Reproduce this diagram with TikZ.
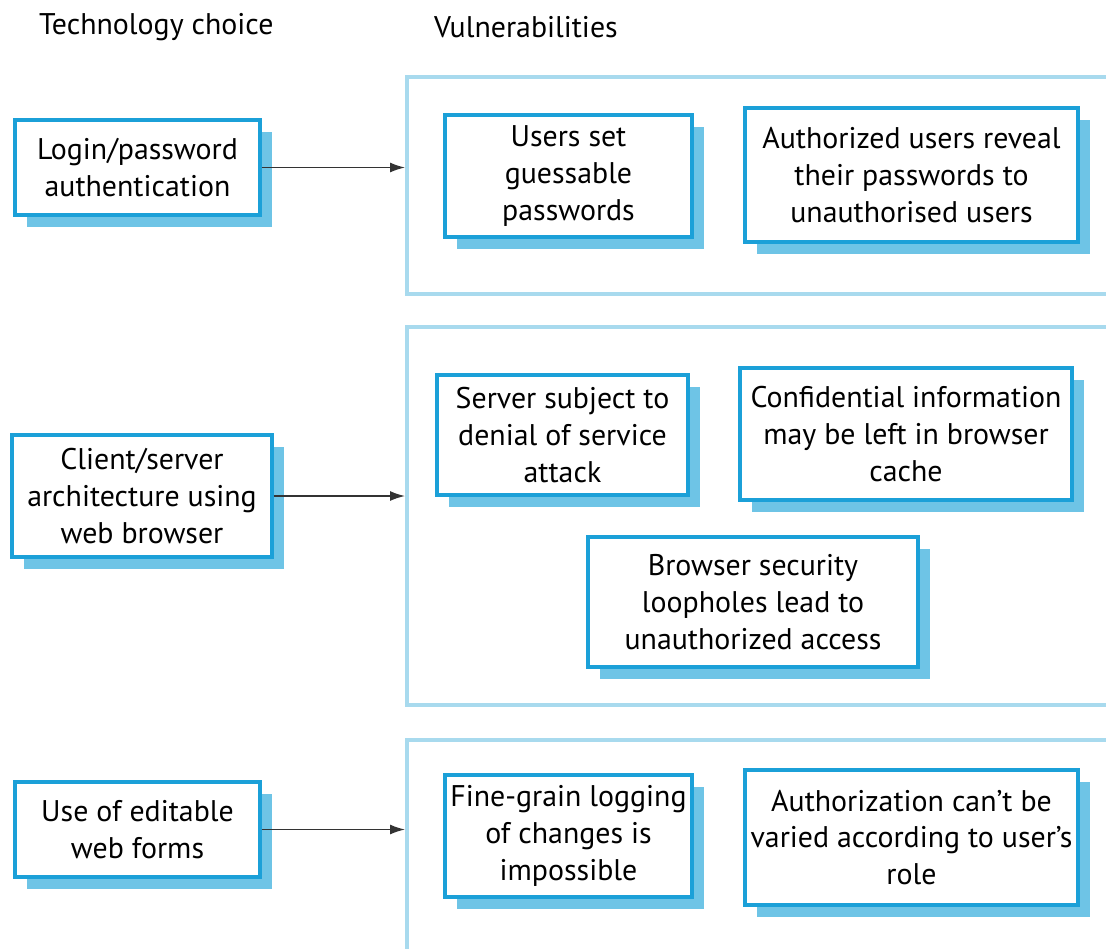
\documentclass[tikz,border=0pt]{standalone}
\usepackage{fontspec}
\setmainfont{PT Sans}
\usetikzlibrary{arrows.meta, positioning, shadows}
\definecolor{boxblue}{RGB}{27,160,216}
\definecolor{shadeblue}{RGB}{110,196,230}
\definecolor{groupblue}{RGB}{168,218,238}

\begin{document}
\begin{tikzpicture}[
    x=0.02cm, y=-0.02cm,
    every node/.style={font=\fontsize{17}{21}\selectfont},
    choice/.style={rectangle, draw=boxblue, fill=white, line width=2pt, align=center, inner sep=0pt, general shadow={fill=shadeblue, shadow xshift=0.24cm, shadow yshift=-0.24cm}},
    group/.style={rectangle, draw=groupblue, line width=2.5pt, anchor=north west, inner sep=0pt, minimum width=14.4cm},
    heading/.style={anchor=west},
    arrow/.style={-{Latex[length=3mm, width=2mm]}, thick, black!80},
]
    \useasboundingbox (0,0) rectangle (1106,948);
    \clip (0,0) rectangle (1106,948);

    % Column headings
    \node[heading] (techhead) at (33,27) {Technology choice};
    \node[heading] (vulnhead) at (428,27) {Vulnerabilities};

    % Technology choices
    \node[choice, minimum width=4.9cm, minimum height=1.9cm] (login) at (137.5,167.5) {Login/password\\authentication};
    \node[choice, minimum width=5.2cm, minimum height=2.44cm] (clientserver) at (142,496) {Client/server\\architecture using\\web browser};
    \node[choice, minimum width=4.9cm, minimum height=1.9cm] (webforms) at (137.5,829.5) {Use of editable\\web forms};

    % Vulnerability groups
    \node[group, minimum height=4.34cm] (vul1) at (405,75) {};
    \node[group, minimum height=7.56cm] (vul2) at (405,325) {};
    \node[group, minimum height=4.6cm] (vul3) at (405,738) {};

    % Vulnerabilities of login/password
    \node[choice, minimum width=4.94cm, minimum height=2.44cm] (guessable) at (568.5,176) {Users set\\guessable\\passwords};
    \node[choice, minimum width=6.66cm, minimum height=2.68cm] (reveal) at (911.5,175) {Authorized users reveal\\their passwords to\\unauthorised users};

    % Vulnerabilities of client/server
    \node[choice, minimum width=5.02cm, minimum height=2.4cm] (denial) at (562.5,435) {Server subject to\\denial of service\\attack};
    \node[choice, minimum width=6.64cm, minimum height=2.64cm] (cache) at (906,434) {Confidential information\\may be left in browser\\cache};
    \node[choice, minimum width=6.6cm, minimum height=2.6cm] (loophole) at (753,602) {Browser security\\loopholes lead to\\unauthorized access};

    % Vulnerabilities of web forms
    \node[choice, minimum width=4.94cm, minimum height=2.44cm] (logging) at (568.5,836) {Fine-grain logging\\of changes is\\impossible};
    \node[choice, minimum width=6.66cm, minimum height=2.7cm] (role) at (911.5,837.5) {Authorization can't be\\varied according to user's\\role};

    % Arrows to groups
    \draw[arrow] (login.east) -- (login.east -| vul1.west);
    \draw[arrow] (clientserver.east) -- (clientserver.east -| vul2.west);
    \draw[arrow] (webforms.east) -- (webforms.east -| vul3.west);

\end{tikzpicture}
\end{document}
